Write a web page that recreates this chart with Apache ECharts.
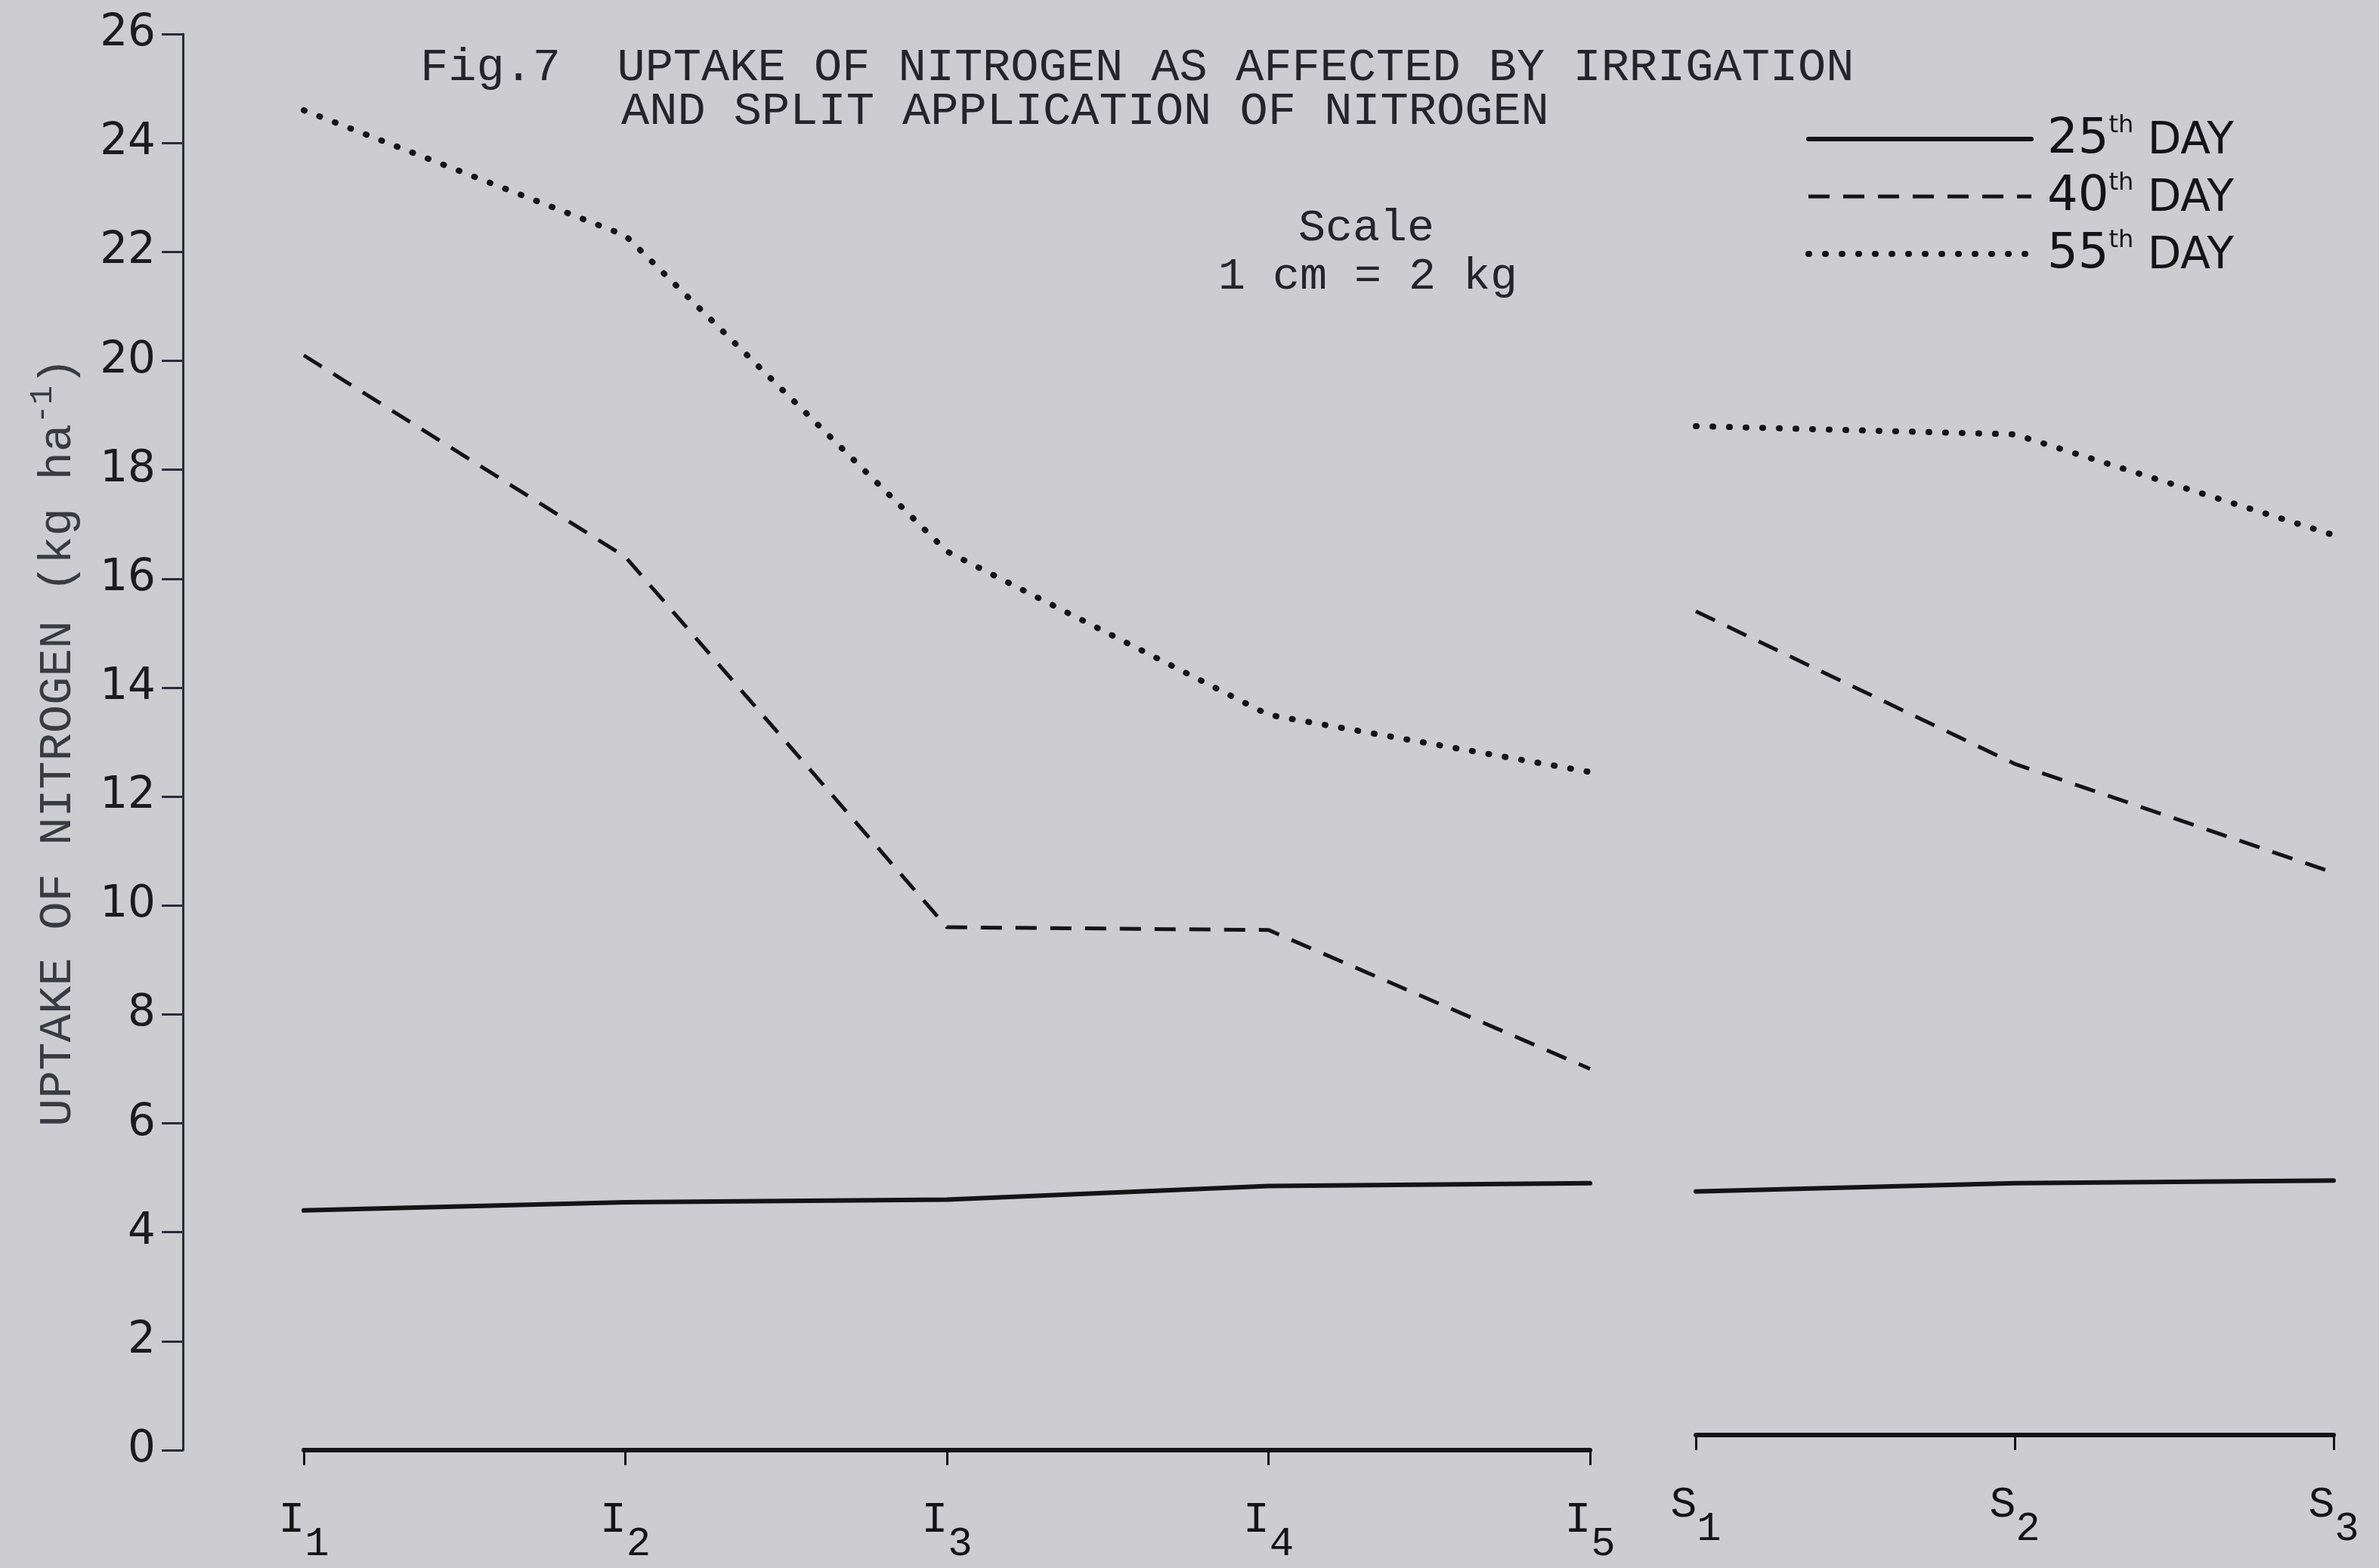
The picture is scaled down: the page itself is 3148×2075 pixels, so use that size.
<!DOCTYPE html>
<html>
<head>
<meta charset="utf-8">
<script src="https://cdn.jsdelivr.net/npm/echarts@6/dist/echarts.min.js"></script>
<style>
html,body{margin:0;padding:0;background:#cdccd1;}
#chart{width:3148px;height:2075px;}
</style>
</head>
<body>
<div id="chart"></div>
<script>
// ---- data ----
var categoriesI = ['I1', 'I2', 'I3', 'I4', 'I5'];
var categoriesS = ['S1', 'S2', 'S3'];
var seriesNames = ['25th DAY', '40th DAY', '55th DAY'];
var day25I = [4.4, 4.55, 4.6, 4.85, 4.9];
var day40I = [20.1, 16.4, 9.6, 9.55, 7.0];
var day55I = [24.6, 22.3, 16.5, 13.5, 12.45];
var day25S = [4.75, 4.9, 4.95];
var day40S = [15.4, 12.6, 10.6];
var day55S = [18.8, 18.65, 16.8];
var yMin = 0, yMax = 26, yStep = 2;

var INK = '#141416';
var MONO = '"Liberation Mono", "DejaVu Sans Mono", monospace';
var HAND = '"DejaVu Sans", "Noto Sans", sans-serif';

var styles = [
  { type: 'solid', width: 6, cap: 'round' },
  { type: [28, 18], width: 5, cap: 'butt' },
  { type: [1, 21], width: 8, cap: 'round' }
];

function mkSeries(name, idx, data, axisIdx) {
  return {
    name: name,
    type: 'line',
    xAxisIndex: axisIdx,
    yAxisIndex: axisIdx,
    data: data,
    symbol: 'none',
    smooth: false,
    lineStyle: Object.assign({ color: INK }, styles[idx]),
    itemStyle: { color: INK },
    emphasis: { disabled: true },
    animation: false
  };
}

var xLabel = function (v) { return '{b|' + v.charAt(0) + '}{s|' + v.slice(1) + '}'; };
var xRich = {
  b: { fontFamily: MONO, fontSize: 58, color: INK, verticalAlign: 'bottom', padding: [0, 0, 30, 0] },
  s: { fontFamily: MONO, fontSize: 54, color: INK, verticalAlign: 'bottom' }
};

function xAxisCfg(grid, data, offset) {
  return {
    type: 'category', gridIndex: grid, data: data, boundaryGap: false, offset: offset,
    axisLine: { show: true, lineStyle: { color: INK, width: 6 } },
    axisTick: { show: true, interval: 0, inside: false, length: 20, lineStyle: { color: INK, width: 3 } },
    axisLabel: { interval: 0, margin: 64, formatter: xLabel, rich: xRich, fontFamily: MONO, fontSize: 58, color: INK },
    splitLine: { show: false }
  };
}

var legendData = seriesNames.map(function (n, i) {
  return { name: n, lineStyle: Object.assign({ color: INK }, styles[i]), itemStyle: { opacity: 0 } };
});

var chart = echarts.init(document.getElementById('chart'), null, { renderer: 'canvas' });
chart.setOption({
  backgroundColor: '#cdccd1',
  animation: false,
  title: [
    { text: 'Fig.7  UPTAKE OF NITROGEN AS AFFECTED BY IRRIGATION', left: 551, top: 54,
      textStyle: { fontFamily: MONO, fontSize: 62, fontWeight: 'normal', color: '#24242a' } },
    { text: 'AND SPLIT APPLICATION OF NITROGEN', left: 817, top: 112,
      textStyle: { fontFamily: MONO, fontSize: 62, fontWeight: 'normal', color: '#24242a' } }
  ],
  graphic: [
    { type: 'text', x: 1808, y: 302, style: { text: 'Scale', font: '60px ' + MONO, fill: '#24242a', textAlign: 'center', textVerticalAlign: 'middle' } },
    { type: 'text', x: 1810, y: 366, style: { text: '1 cm = 2 kg', font: '60px ' + MONO, fill: '#24242a', textAlign: 'center', textVerticalAlign: 'middle' } }
  ],
  legend: {
    data: legendData,
    orient: 'vertical',
    left: 2384,
    top: 146,
    itemWidth: 295,
    itemHeight: 20,
    itemGap: 10,
    selectedMode: false,
    itemStyle: { opacity: 0 },
    formatter: function (n) { return n.replace(/^(\d+)th (.*)$/, '{n|$1}{s|th}{d| $2}'); },
    textStyle: {
      fontFamily: HAND, fontSize: 62, color: INK, lineHeight: 66, padding: [0, 0, 0, 16],
      rich: {
        n: { fontFamily: HAND, fontSize: 64, color: INK, verticalAlign: 'bottom' },
        s: { fontFamily: HAND, fontSize: 32, color: INK, verticalAlign: 'bottom', padding: [0, 0, 34, 0] },
        d: { fontFamily: HAND, fontSize: 58, color: INK, verticalAlign: 'bottom' }
      }
    }
  },
  grid: [
    { left: 402, right: 3148 - 2104, top: 45, bottom: 156, containLabel: false },
    { left: 2244, right: 3148 - 3088, top: 45, bottom: 156, containLabel: false }
  ],
  xAxis: [xAxisCfg(0, categoriesI, 0), xAxisCfg(1, categoriesS, -20)],
  yAxis: [
    {
      type: 'value', gridIndex: 0, min: yMin, max: yMax, interval: yStep, offset: 160,
      axisLine: { show: true, lineStyle: { color: '#2a2d38', width: 3 } },
      axisTick: { show: true, inside: false, length: 28, lineStyle: { color: '#2a2d38', width: 3 } },
      axisLabel: { margin: 36, fontFamily: HAND, fontSize: 58, color: '#1c1c20' },
      splitLine: { show: false },
      name: '{a|UPTAKE OF NITROGEN (kg ha}{s|-1}{a|)}',
      nameLocation: 'middle',
      nameRotate: 90,
      nameGap: 134,
      nameTextStyle: {
        fontFamily: MONO, fontSize: 62, color: '#3a3a42',
        rich: {
          a: { fontFamily: MONO, fontSize: 62, color: '#3a3a42', verticalAlign: 'bottom' },
          s: { fontFamily: MONO, fontSize: 42, color: '#3a3a42', verticalAlign: 'bottom', padding: [0, 0, 30, 0] }
        }
      }
    },
    { type: 'value', gridIndex: 1, min: yMin, max: yMax, interval: yStep, show: false, splitLine: { show: false } }
  ],
  series: [
    mkSeries(seriesNames[0], 0, day25I, 0),
    mkSeries(seriesNames[1], 1, day40I, 0),
    mkSeries(seriesNames[2], 2, day55I, 0),
    mkSeries(seriesNames[0], 0, day25S, 1),
    mkSeries(seriesNames[1], 1, day40S, 1),
    mkSeries(seriesNames[2], 2, day55S, 1)
  ]
});
</script>
</body>
</html>
